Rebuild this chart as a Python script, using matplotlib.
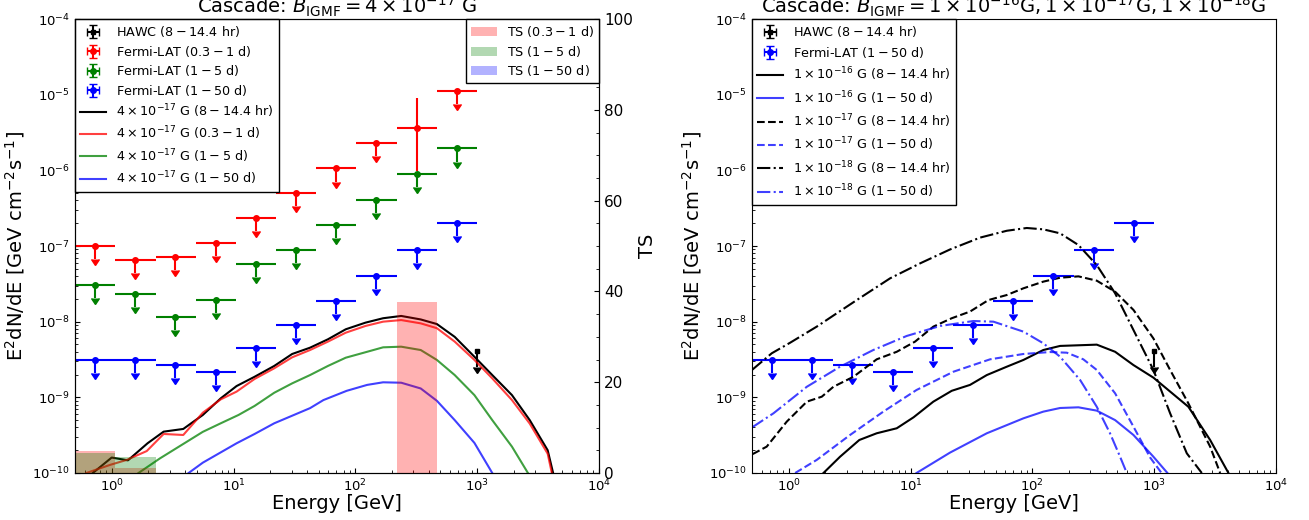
import numpy as np
import matplotlib
matplotlib.use("Agg")
import matplotlib.pyplot as plt
from matplotlib.ticker import MultipleLocator

plt.rcParams.update({
    'font.family': 'DejaVu Sans',
    'mathtext.fontset': 'dejavusans',
    'xtick.direction': 'in', 'ytick.direction': 'in',
    'xtick.labelsize': 9.5, 'ytick.labelsize': 9.5,
    'legend.fontsize': 9.2,
})

# ---------------- data ----------------
# Fermi-LAT energy bins [GeV]
bin_edges = np.array([0.5, 1.07, 2.29, 4.89, 10.4, 22.3, 47.7, 102, 218, 467, 1000])
bin_centers = np.array([0.73, 1.56, 3.34, 7.14, 15.2, 32.6, 69.8, 149, 319, 683])

fermi_red = np.array([1.0e-7, 6.5e-8, 7.2e-8, 1.1e-7, 2.37e-7, 4.97e-7, 1.06e-6, 2.3e-6, 3.66e-6, 1.12e-5])
fermi_red_ul = np.array([True, True, True, True, True, True, True, True, False, True])
fermi_red_det_lo = np.array([0, 0, 0, 0, 0, 0, 0, 0, 2.68e-6, 0])
fermi_red_det_hi = np.array([0, 0, 0, 0, 0, 0, 0, 0, 5.44e-6, 0])

fermi_green = np.array([3.03e-8, 2.30e-8, 1.15e-8, 1.95e-8, 5.73e-8, 8.85e-8, 1.88e-7, 4.06e-7, 8.87e-7, 1.95e-6])
fermi_blue = np.array([3.12e-9, 3.1e-9, 2.67e-9, 2.18e-9, 4.45e-9, 8.95e-9, 1.89e-8, 4.05e-8, 8.77e-8, 2.0e-7])

hawc_E = np.array([1000.0])
hawc_val = np.array([4.14e-9])

# TS per bin
ts_red = np.array([4.8, 1.0, 0, 0, 0, 0, 0, 0, 37.6, 0])
ts_green = np.array([4.5, 3.6, 0, 0, 0, 0, 0, 0, 0, 0])
ts_blue = np.array([0, 0, 0, 0, 0, 0, 0, 0, 0, 0])

# Left panel model curves (B = 4e-17 G)
l_black_E = [0.70, 1.0, 1.36, 1.97, 2.67, 3.87, 5.6, 7.86, 10.6, 14.9, 21.6, 30.3, 42.5, 59.6, 83.4,
             121, 169, 238, 344, 467, 654, 949, 1330, 1930, 2700, 3790, 4200]
l_black_V = [1.0e-10, 1.6e-10, 1.47e-10, 2.47e-10, 3.52e-10, 3.82e-10, 5.85e-10, 9.7e-10, 1.41e-9,
             1.87e-9, 2.6e-9, 3.74e-9, 4.53e-9, 5.85e-9, 7.93e-9, 9.7e-9, 1.11e-8, 1.19e-8, 1.07e-8,
             9.3e-9, 6.3e-9, 3.44e-9, 1.97e-9, 1.07e-9, 5.0e-10, 2.0e-10, 1.0e-10]
l_red_E = [0.62, 0.97, 1.33, 1.94, 2.67, 3.87, 5.6, 7.86, 10.6, 14.9, 21.6, 30.3, 42.5, 59.6, 83.4,
           121, 169, 238, 344, 467, 654, 949, 1330, 1930, 2700, 3790, 4100]
l_red_V = [1.0e-10, 1.28e-10, 1.49e-10, 1.95e-10, 3.28e-10, 3.18e-10, 6.27e-10, 9.4e-10, 1.19e-9,
           1.75e-9, 2.42e-9, 3.38e-9, 4.22e-9, 5.45e-9, 7.15e-9, 8.77e-9, 1.0e-8, 1.05e-8, 9.5e-9,
           8.2e-9, 5.45e-9, 3.12e-9, 1.78e-9, 9.2e-10, 4.5e-10, 1.8e-10, 1.0e-10]
l_green_E = [1.66, 2.49, 3.74, 5.6, 7.86, 11.0, 14.9, 21.6, 30.3, 42.5, 59.6, 83.4, 125, 169, 238,
             344, 467, 654, 949, 1330, 1930, 2610]
l_green_V = [1.0e-10, 1.56e-10, 2.34e-10, 3.5e-10, 4.54e-10, 5.85e-10, 7.7e-10, 1.15e-9, 1.53e-9,
             1.97e-9, 2.6e-9, 3.34e-9, 4.0e-9, 4.58e-9, 4.67e-9, 4.22e-9, 3.12e-9, 1.97e-9, 1.07e-9,
             5.0e-10, 2.23e-10, 1.0e-10]
l_blue_E = [4.28, 5.6, 10.6, 14.9, 21.6, 42.5, 54.7, 85, 125, 169, 238, 344, 467, 654, 949, 1330]
l_blue_V = [1.0e-10, 1.37e-10, 2.47e-10, 3.28e-10, 4.54e-10, 7.2e-10, 9.2e-10, 1.22e-9, 1.46e-9,
            1.58e-9, 1.56e-9, 1.31e-9, 9.0e-10, 5.0e-10, 2.5e-10, 1.0e-10]

# Right panel model curves
r16_hr_E = [1.93, 2.64, 3.80, 5.28, 7.71, 10.6, 15.4, 21.8, 30.8, 42.3, 61.7, 84.5, 123, 169, 338,
            478, 676, 986, 1910, 2880, 4070]
r16_hr_V = [1.0e-10, 1.64e-10, 2.73e-10, 3.35e-10, 3.9e-10, 5.45e-10, 8.77e-10, 1.22e-9, 1.46e-9,
            1.97e-9, 2.54e-9, 3.12e-9, 4.22e-9, 4.78e-9, 4.97e-9, 4.0e-9, 2.67e-9, 1.82e-9, 7.5e-10,
            2.73e-10, 1.0e-10]
r16_d_E = [11.2, 21.1, 42.3, 84.5, 123, 169, 239, 338, 478, 676, 986, 1285]
r16_d_V = [1.0e-10, 1.86e-10, 3.35e-10, 5.28e-10, 6.47e-10, 7.23e-10, 7.38e-10, 6.67e-10, 5.0e-10,
           3.18e-10, 1.64e-10, 1.0e-10]
r17_hr_E = [0.507, 0.66, 0.964, 1.41, 1.87, 2.33, 3.4, 5.28, 7.71, 10.9, 15.4, 21.8, 30.8, 43.6, 61.7,
            84.5, 123, 169, 239, 338, 478, 676, 986, 1352, 1910, 2880, 3480]
r17_hr_V = [1.78e-10, 2.23e-10, 4.77e-10, 8.77e-10, 1.02e-9, 1.38e-9, 1.87e-9, 3.18e-9, 4.0e-9,
            5.45e-9, 8.6e-9, 1.11e-8, 1.36e-8, 1.93e-8, 2.25e-8, 2.76e-8, 3.38e-8, 3.81e-8, 3.97e-8,
            3.48e-8, 2.49e-8, 1.43e-8, 6.0e-9, 2.3e-9, 8.3e-10, 2.23e-10, 1.0e-10]
r17_d_E = [1.13, 1.70, 3.19, 5.98, 11.2, 22.5, 45, 84.5, 140, 192, 262, 338, 478, 676, 927, 1150]
r17_d_V = [1.0e-10, 1.49e-10, 3.18e-10, 6.47e-10, 1.25e-9, 2.18e-9, 3.18e-9, 3.74e-9, 3.97e-9,
           3.89e-9, 3.18e-9, 2.3e-9, 1.13e-9, 4.1e-10, 1.6e-10, 1.0e-10]
r18_hr_E = [0.5, 0.726, 1.03, 1.70, 2.48, 3.62, 6.8, 12.0, 21.1, 37.2, 61.7, 90, 123, 169, 239, 338,
            478, 676, 986, 1352, 1853, 2460]
r18_hr_V = [2.3e-9, 3.82e-9, 5.28e-9, 8.6e-9, 1.29e-8, 1.93e-8, 3.74e-8, 5.9e-8, 9.0e-8, 1.29e-7,
            1.59e-7, 1.73e-7, 1.66e-7, 1.47e-7, 1.03e-7, 5.6e-8, 2.37e-8, 7.76e-9, 2.3e-9, 6.15e-10,
            1.82e-10, 1.0e-10]
r18_d_E = [0.5, 0.75, 1.41, 2.64, 4.95, 9.3, 17.5, 32.8, 47.9, 84.5, 123, 169, 247, 338, 434, 525, 596]
r18_d_V = [4.0e-10, 6.15e-10, 1.38e-9, 2.54e-9, 4.22e-9, 6.47e-9, 8.77e-9, 1.02e-8, 1.0e-8, 7.38e-9,
           5.18e-9, 3.44e-9, 1.69e-9, 7.5e-10, 3.35e-10, 1.64e-10, 1.0e-10]

# ---------------- figure ----------------
UL_FRAC = 0.33  # length of the upper-limit arrows (fraction of the value)

W, H = 1309, 520
fig = plt.figure(figsize=(W / 100, H / 100), dpi=100)
axL = fig.add_axes([75 / W, 47 / H, 524 / W, 454 / H])
axR = fig.add_axes([752 / W, 47 / H, 524 / W, 454 / H])

xerr_bins = [bin_centers - bin_edges[:-1], bin_edges[1:] - bin_centers]
all_ul = np.ones(10, bool)


def fermi(ax, vals, ul, color, label, det_lo=None, det_hi=None):
    lo = np.where(ul, UL_FRAC * vals, 0 if det_lo is None else det_lo)
    hi = np.where(ul, 0, 0 if det_hi is None else det_hi)
    return ax.errorbar(bin_centers, vals, xerr=xerr_bins, yerr=[lo, hi], uplims=ul,
                       fmt='o', color=color, ms=4, elinewidth=1.5, capsize=0, label=label)


def hawc(ax):
    return ax.errorbar(hawc_E, hawc_val, xerr=[[0], [0]], yerr=[UL_FRAC * 1.2 * hawc_val, [0]],
                       uplims=[True], fmt='s', color='k', ms=3.5, elinewidth=1.5, capsize=0,
                       label=r"HAWC ($8-14.4$ hr)")


for ax in (axL, axR):
    ax.set_xscale('log')
    ax.set_yscale('log')
    ax.set_xlim(0.5, 1e4)
    ax.set_ylim(1e-10, 1e-4)
    ax.set_xlabel("Energy [GeV]", fontsize=14, labelpad=0)
    ax.set_ylabel(r"E$^2$dN/dE [GeV cm$^{-2}$s$^{-1}$]", fontsize=14)

leg_kw = dict(loc='upper left', borderaxespad=0, fancybox=False, edgecolor='k',
              framealpha=1, numpoints=1)

# ---- left panel ----
h_hawc = hawc(axL)
h_r = fermi(axL, fermi_red, fermi_red_ul, 'r', r"Fermi-LAT ($0.3-1$ d)", fermi_red_det_lo, fermi_red_det_hi)
h_g = fermi(axL, fermi_green, all_ul, 'g', r"Fermi-LAT ($1-5$ d)")
h_b = fermi(axL, fermi_blue, all_ul, 'b', r"Fermi-LAT ($1-50$ d)")
lk, = axL.plot(l_black_E, l_black_V, color='k', lw=1.5, label=r"$4\times10^{-17}$ G ($8-14.4$ hr)")
lr, = axL.plot(l_red_E, l_red_V, color='r', alpha=0.75, lw=1.5, label=r"$4\times10^{-17}$ G ($0.3-1$ d)")
lg, = axL.plot(l_green_E, l_green_V, color='g', alpha=0.75, lw=1.5, label=r"$4\times10^{-17}$ G ($1-5$ d)")
lb, = axL.plot(l_blue_E, l_blue_V, color='b', alpha=0.75, lw=1.5, label=r"$4\times10^{-17}$ G ($1-50$ d)")
axL.set_title(r"Cascade: $B_{\rm IGMF} = 4\times10^{-17}$ G", fontsize=14, pad=2)
axL.legend(handles=[h_hawc, h_r, h_g, h_b, lk, lr, lg, lb], labelspacing=0.36, **leg_kw)

ax2 = axL.twinx()
ax2.set_xscale('log')
ax2.set_xlim(0.5, 1e4)
widths = np.diff(bin_edges)
b1 = ax2.bar(bin_edges[:-1], ts_red, width=widths, align='edge', color='r', alpha=0.3, lw=0, label=r"TS ($0.3-1$ d)")
b2 = ax2.bar(bin_edges[:-1], ts_green, width=widths, align='edge', color='g', alpha=0.3, lw=0, label=r"TS ($1-5$ d)")
b3 = ax2.bar(bin_edges[:-1], ts_blue, width=widths, align='edge', color='b', alpha=0.3, lw=0, label=r"TS ($1-50$ d)")
ax2.set_ylim(0, 100)
ax2.yaxis.set_major_locator(MultipleLocator(20))
ax2.yaxis.set_minor_locator(MultipleLocator(5))
ax2.tick_params(axis='y', which='both', direction='in', labelsize=11)
ax2.set_ylabel("TS", fontsize=14)
ax2.legend(handles=[b1, b2, b3], loc='upper right', borderaxespad=0, fancybox=False,
           edgecolor='k', framealpha=1, labelspacing=0.36)

# ---- right panel ----
h_hawc2 = hawc(axR)
h_b2 = fermi(axR, fermi_blue, all_ul, 'b', r"Fermi-LAT ($1-50$ d)")
c1, = axR.plot(r16_hr_E, r16_hr_V, color='k', lw=1.5, ls='-', label=r"$1\times10^{-16}$ G ($8-14.4$ hr)")
c2, = axR.plot(r16_d_E, r16_d_V, color='b', alpha=0.75, lw=1.5, ls='-', label=r"$1\times10^{-16}$ G ($1-50$ d)")
c3, = axR.plot(r17_hr_E, r17_hr_V, color='k', lw=1.5, ls='--', label=r"$1\times10^{-17}$ G ($8-14.4$ hr)")
c4, = axR.plot(r17_d_E, r17_d_V, color='b', alpha=0.75, lw=1.5, ls='--', label=r"$1\times10^{-17}$ G ($1-50$ d)")
c5, = axR.plot(r18_hr_E, r18_hr_V, color='k', lw=1.5, ls='-.', label=r"$1\times10^{-18}$ G ($8-14.4$ hr)")
c6, = axR.plot(r18_d_E, r18_d_V, color='b', alpha=0.75, lw=1.5, ls='-.', label=r"$1\times10^{-18}$ G ($1-50$ d)")
axR.set_title(r"Cascade: $B_{\rm IGMF} = 1\times10^{-16}{\rm G}, 1\times10^{-17}{\rm G}, 1\times10^{-18}{\rm G}$",
              fontsize=14, pad=2)
axR.legend(handles=[h_hawc2, h_b2, c1, c2, c3, c4, c5, c6], labelspacing=0.45, **leg_kw)

fig.savefig("out.png", dpi=100)
